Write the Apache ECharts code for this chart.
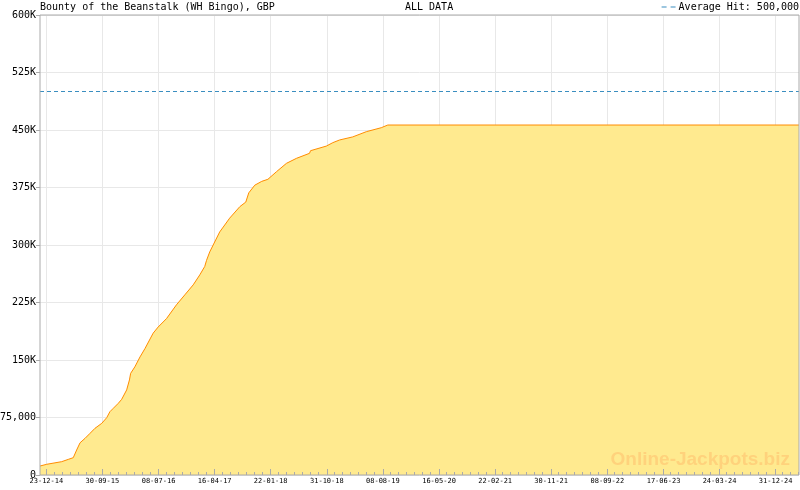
<!DOCTYPE html>
<html><head><meta charset="utf-8">
<script src="https://cdn.jsdelivr.net/npm/echarts@6/dist/echarts.min.js"></script>
<style>html,body{margin:0;padding:0;background:#fff}#c{width:800px;height:490px}</style>
</head><body><div id="c"></div>
<script>
const chartTitle = 'Bounty of the Beanstalk (WH Bingo), GBP';
const chartSubtitle = 'ALL DATA';
const averageHit = 500000;
const averageLabel = 'Average Hit: 500,000';
const watermarkText = 'Online-Jackpots.biz';

const dates = [
  '2014-11-21','2014-12-25','2015-03-10','2015-04-12','2015-05-07','2015-05-24','2015-06-10','2015-07-05',
  '2015-07-30','2015-08-24','2015-09-27','2015-10-22','2015-11-07','2015-11-24','2015-12-19','2016-01-05',
  '2016-01-30','2016-02-07','2016-02-13','2016-02-19','2016-03-11','2016-04-06','2016-05-01','2016-06-11',
  '2016-07-06','2016-08-17','2016-10-06','2016-11-17','2016-12-29','2017-01-31','2017-02-25','2017-03-06',
  '2017-03-22','2017-05-11','2017-06-30','2017-08-20','2017-09-19','2017-10-04','2017-11-03','2017-12-08',
  '2018-01-08','2018-02-20','2018-04-11','2018-05-31','2018-08-05','2018-08-10','2018-10-28','2018-11-30',
  '2019-01-03','2019-03-10','2019-05-17','2019-07-31','2019-09-02','2025-04-27'
];
const values = [
  11700,14000,17400,20400,22600,32600,42000,47800,
  54300,60900,67400,74800,82600,87000,93500,98700,
  111000,113000,124000,132600,141000,154000,165000,185000,
  193000,204000,222000,235000,248000,261000,272000,280000,
  291000,317000,335000,350000,356000,368000,378000,383000,
  385700,395600,406500,413000,419600,423000,429000,433500,
  437000,441000,447800,453000,456500,456500
];
const xTickLabels = ['23-12-14','30-09-15','08-07-16','16-04-17','22-01-18','31-10-18','08-08-19',
  '16-05-20','22-02-21','30-11-21','08-09-22','17-06-23','24-03-24','31-12-24'];
const yTickValues = [0,75000,150000,225000,300000,375000,450000,525000,600000];

function parseISO(s){const p=s.split('-').map(Number);return Date.UTC(p[0],p[1]-1,p[2]);}
function parseDMY(s){const p=s.split('-').map(Number);return Date.UTC(2000+p[2],p[1]-1,p[0]);}
function pad(n){return (n<10?'0':'')+n;}
function fmtDMY(v){const d=new Date(v);return pad(d.getUTCDate())+'-'+pad(d.getUTCMonth()+1)+'-'+pad(d.getUTCFullYear()%100);}

const seriesData = dates.map((d,i)=>[parseISO(d), values[i]]);
const xMin = seriesData[0][0];
const xMax = seriesData[seriesData.length-1][0];
const majorTicks = xTickLabels.map(parseDMY);
const minorStep = (majorTicks[1]-majorTicks[0])/7;
const minorTicks = [];
for (let t = majorTicks[0]; t <= xMax; t += minorStep) {
  if (!majorTicks.some(m => Math.abs(m - t) < minorStep/3)) minorTicks.push(t);
}

const mono = 'DejaVu Sans Mono';
const lineBlue = '#3a8ec0';
const chart = echarts.init(document.getElementById('c'), null, {renderer:'canvas'});
chart.setOption({
  animation: false,
  backgroundColor: '#fff',
  title: [
    {text: chartTitle, left: 40, top: 2, padding: 0, textStyle:{fontFamily: mono, fontSize: 10, fontWeight:'normal', color:'#000'}},
    {text: chartSubtitle, left: 405, top: 2, padding: 0, textStyle:{fontFamily: mono, fontSize: 10, fontWeight:'normal', color:'#000'}}
  ],
  legend: {
    data: [{name: averageLabel, icon: 'path://M0,0h5v1h-5z M9,0h5v1h-5z'}],
    right: 1, top: 2, padding: 0, itemWidth: 14, itemHeight: 1, itemGap: 3,
    itemStyle: {color: lineBlue, borderWidth: 0},
    textStyle: {fontFamily: mono, fontSize: 10, color:'#000', padding:[0,0,0,-2]}
  },
  grid: {left: 40, right: 1, top: 15, bottom: 15, show: true, borderColor: '#aaaaaa', borderWidth: 1, z: 10,
    containLabel: false, outerBoundsMode: 'none'},
  xAxis: [
    {type:'value', min:xMin, max:xMax, position:'bottom',
      axisLine:{show:false}, axisTick:{show:false, customValues: majorTicks},
      axisLabel:{customValues: majorTicks, formatter: fmtDMY, fontFamily: mono, fontSize: 7, color:'#000', margin: 3},
      splitLine:{show:true, customValues: majorTicks, lineStyle:{color:'#e8e8e8', width:1}}},
    {type:'value', min:xMin, max:xMax, position:'bottom', z: 11,
      axisLine:{show:false}, axisLabel:{show:false}, splitLine:{show:false},
      axisTick:{show:true, customValues: majorTicks, inside:true, length:6, lineStyle:{color:'#aaaaaa'}}},
    {type:'value', min:xMin, max:xMax, position:'bottom', z: 11,
      axisLine:{show:false}, axisLabel:{show:false}, splitLine:{show:false},
      axisTick:{show:true, customValues: minorTicks, inside:true, length:3, lineStyle:{color:'#aaaaaa'}}}
  ],
  yAxis: {type:'value', min:0, max:600000, interval:75000,
    axisLine:{show:false},
    axisTick:{show:true, length:4, lineStyle:{color:'#aaaaaa'}},
    axisLabel:{fontFamily: mono, fontSize: 10, color:'#000', margin: 4,
      formatter: v => v === 0 ? '0' : (v < 100000 ? v.toLocaleString('en-US') : (v/1000)+'K')},
    splitLine:{show:true, lineStyle:{color:'#e8e8e8', width:1}}
  },
  series: [
    {type:'line', name:'Jackpot', data: seriesData, xAxisIndex:0, yAxisIndex:0,
      showSymbol:false, symbol:'none', lineStyle:{color:'#ff8c00', width:1},
      areaStyle:{color:'#ffea8f', opacity:1}, z: 2},
    {type:'line', name: averageLabel, data: [], symbol:'none', xAxisIndex:0, yAxisIndex:0,
      lineStyle:{color: lineBlue, width:1, type:[4,3]}, itemStyle:{color: lineBlue},
      markLine:{silent:true, symbol:'none', label:{show:false},
        lineStyle:{color: lineBlue, width:1, type:[4,3]}, data:[{yAxis: averageHit}]}, z: 3}
  ],
  graphic: [
    {type:'text', right: 10, bottom: 21, z: 5, silent: true,
      style:{text: watermarkText, fontFamily:'Liberation Sans', fontWeight:'bold', fontSize: 19, fill:'#ffd27c'}}
  ]
});
</script>
</body></html>
